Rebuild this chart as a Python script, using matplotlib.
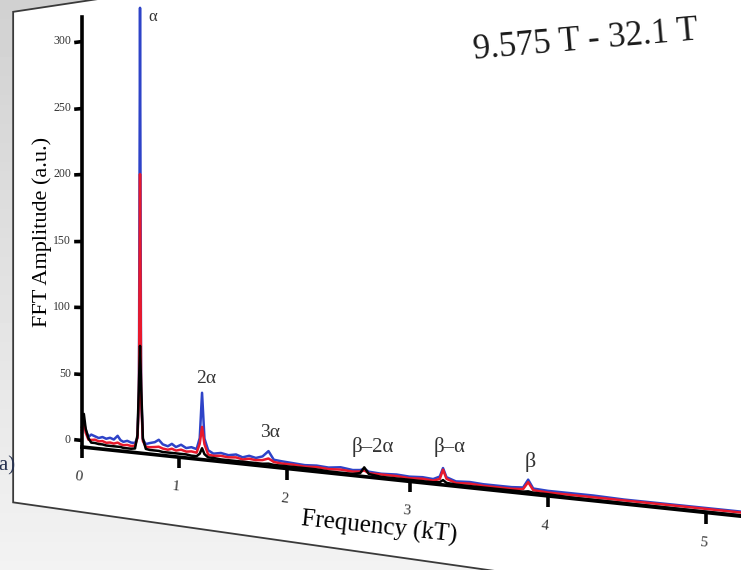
import matplotlib

matplotlib.use("Agg")
import matplotlib.pyplot as plt
import numpy as np
from matplotlib.patches import Polygon
from matplotlib.transforms import Transform
from mpl_toolkits.axisartist import floating_axes
from mpl_toolkits.axisartist.grid_finder import DictFormatter, FixedLocator

plt.rcParams["font.family"] = ["Liberation Serif", "DejaVu Serif"]

# spectrum (frequency in kT, amplitude in a.u.)
freq = [0.00, 0.02, 0.04, 0.07, 0.10, 0.14, 0.18, 0.22, 0.26, 0.30,
        0.34, 0.38, 0.41, 0.44, 0.48, 0.52, 0.56, 0.585, 0.60, 0.611,
        0.622, 0.64, 0.67, 0.71, 0.76, 0.80, 0.84, 0.89, 0.93, 0.97,
        1.02, 1.07, 1.12, 1.17, 1.20, 1.222, 1.245, 1.28, 1.33, 1.40,
        1.47, 1.54, 1.60, 1.66, 1.72, 1.78, 1.833, 1.88, 1.95, 2.05,
        2.15, 2.25, 2.35, 2.45, 2.55, 2.61, 2.643, 2.68, 2.78, 2.90,
        3.00, 3.10, 3.18, 3.23, 3.254, 3.28, 3.35, 3.45, 3.55, 3.65,
        3.75, 3.83, 3.865, 3.90, 4.00, 4.15, 4.30, 4.50, 4.70, 4.90,
        5.10, 5.30, 5.50]
amp_blue = [6, 14, 8, 3, 5, 4, 3, 4, 3, 4,
            3, 6, 3, 2, 3, 2, 2, 6, 40, 319,
            40, 5, 2, 3, 4, 6, 3, 2, 4, 2,
            4, 2, 3, 2, 10, 42, 10, 2, 0, 1,
            0, 1, -0.5, 1, 0, 1.5, 5.5, 0, -0.5, -1,
            -1.5, -1, -1.5, -0.5, -1.5, -1, 0, -1.5, -2, -1.5,
            -2, -1.5, -2, 0, 5.5, 0, -2, -1.5, -2, -2,
            -2, -1.5, 3.5, -1.5, -2, -2, -2, -2.5, -2.5, -2.5,
            -2.5, -2.5, -2.5]
amp_red = [8, 15, 6, 1, 1, 1.5, 0.5, 1, 0, 0.5,
           0, 1, 0, -0.5, 0, -0.5, 0, 6, 35, 198,
           35, 4, 0, 0, 0.5, 1, 0, -0.5, 0.5, -0.5,
           0.5, -0.5, 0, -0.5, 6, 18, 6, -1, -1.5, -1,
           -1.5, -1, -2, -1, -1.5, -1, 0.5, -1.5, -2, -2,
           -2.5, -2, -2.5, -2, -2.5, -2, -1, -2.5, -2.5, -2.5,
           -3, -2.5, -3, -1.5, 4.5, -1, -3, -2.5, -3, -3,
           -3, -2.5, 2, -2.5, -3, -3, -3, -3, -3, -3,
           -3, -3, -3]
amp_black = [10, 20, 9, 2, -1, -1, -1.5, -1.5, -2, -2,
             -2, -2, -2, -2.5, -2.5, -2.5, -2, 8, 45, 73,
             45, 6, -1.5, -2, -2, -2, -2.5, -2.5, -2.5, -2.5,
             -2.5, -2.5, -3, -3, -1, 3, -1, -3, -3, -3.5,
             -3.5, -3.5, -3.5, -3.5, -3.5, -3.5, -3, -3.5, -3.5, -3.5,
             -3.5, -3.5, -4, -4, -4, -3, 1, -3, -4, -4,
             -4, -4, -4, -3.5, -2, -3.5, -4, -4, -4, -4,
             -4, -4, -3.5, -4, -4, -4.5, -4.5, -4.5, -4.5, -4.5,
             -4.5, -4.5, -4.5]

x_ticks = [0, 1, 2, 3, 4, 5]
y_ticks = [0, 50, 100, 150, 200, 250, 300]

peak_labels = ["α", "2α", "3α", "β–2α", "β–α", "β"]
peak_label_freq = [0.742, 1.26, 1.846, 2.713, 3.306, 3.878]
peak_label_amp = [311, 52, 18, 15, 19, 14]
peak_label_size = [12, 14, 14, 15, 15, 16]

FIG_W, FIG_H = 741, 570
# the slide is photographed at an angle: a perspective tilt of the plot plane
U0, V0, A0 = 82.0, 447.0, -5.0   # pixel position of (0 kT, -5 a.u.)
K, C = 91.9, 0.05275             # px per kT at the origin, depth shrink per kT
S, H = 0.105, 1.33               # baseline slope, px per a.u. at the origin


class SlideTilt(Transform):
    input_dims = output_dims = 2
    is_separable = False
    has_inverse = True

    def __init__(self, inverse=False):
        super().__init__()
        self._inverse = inverse

    def transform_non_affine(self, values):
        values = np.asarray(values, dtype=float).reshape(-1, 2)
        if not self._inverse:
            f, a = values[:, 0], values[:, 1]
            w = 1 - C * f
            u = U0 + K * f / w
            v = V0 + S * (u - U0) - H * (a - A0) / w
            return np.column_stack([u, FIG_H - v])
        u, v = values[:, 0], FIG_H - values[:, 1]
        f = (u - U0) / (K + C * (u - U0))
        w = 1 - C * f
        a = A0 + (V0 + S * (u - U0) - v) * w / H
        return np.column_stack([f, a])

    def inverted(self):
        return SlideTilt(not self._inverse)


tilt = SlideTilt()
fig = plt.figure(figsize=(FIG_W / 100, FIG_H / 100), dpi=100)

# backdrop: textured desk, then the tilted slide with a white rim
bg = fig.add_axes([0, 0, 1, 1], zorder=-5)
bg.set_xlim(0, FIG_W)
bg.set_ylim(0, FIG_H)
bg.axis("off")
yy, xx = np.mgrid[0:1:60j, 0:1:60j]
bg.imshow(0.95 - 0.13 * yy, cmap="gray", vmin=0, vmax=1, origin="lower",
          extent=(0, FIG_W, 0, FIG_H), aspect="auto")
outer = Polygon([(-0.78, 330), (9, 330), (9, -54), (-0.78, -54)],
                transform=tilt + bg.transData, fc="white", ec="#3a3a3a", lw=1.3)
inner = Polygon([(-0.745, 327.5), (9, 327.5), (9, -51.5), (-0.745, -51.5)],
                transform=tilt + bg.transData, fc="none", ec="none")
bg.add_patch(outer)
bg.add_patch(inner)
shade = bg.imshow(0.865 + 0.08 * (0.5 * xx + 0.5 * (1 - yy)), cmap="gray", vmin=0, vmax=1,
                  origin="lower", extent=(0, FIG_W, 0, FIG_H), aspect="auto")
shade.set_clip_path(inner)
bg.text(15, FIG_H - 466, "(a)", ha="right", va="center", fontsize=15, color="#26314f")

helper = floating_axes.GridHelperCurveLinear(
    tilt, extremes=(0.0, 5.6, -5.0, 318.0),
    grid_locator1=FixedLocator(x_ticks), grid_locator2=FixedLocator(y_ticks),
    tick_formatter1=DictFormatter({t: str(t) for t in x_ticks}),
    tick_formatter2=DictFormatter({t: str(t) for t in y_ticks}))
ax = fig.add_axes([0, 0, 1, 1], axes_class=floating_axes.FloatingAxes, grid_helper=helper)
ax.set_xlim(0, FIG_W)
ax.set_ylim(0, FIG_H)
ax.patch.set_facecolor("none")

ax.axis["top"].set_visible(False)
ax.axis["right"].set_visible(False)
left, bottom = ax.axis["left"], ax.axis["bottom"]
for side in (left, bottom):
    side.line.set_linewidth(2.6)
    side.major_ticks.set_tick_out(True)
    side.major_ticks.set_markeredgewidth(2.6)
    side.major_ticklabels.set_color("#333333")
left.major_ticks.set_ticksize(6)
bottom.major_ticks.set_ticksize(8)
left.major_ticklabels.set_fontsize(8.5)
left.major_ticklabels.set_pad(2)
bottom.major_ticklabels.set_fontsize(11)
bottom.major_ticklabels.set_pad(9)
left.label.set_text("FFT Amplitude (a.u.)")
left.label.set_fontsize(16)
left.label.set_pad(1)
bottom.label.set_text("Frequency (kT)")
bottom.label.set_fontsize(18)
bottom.label.set_pad(3)

aux = ax.get_aux_axes(tilt)
aux.plot(freq, amp_blue, color="#2e43c8", lw=1.8, clip_on=False)
aux.plot(freq, amp_red, color="#e8192c", lw=1.8, clip_on=False)
aux.plot(freq, amp_black, color="black", lw=1.8, clip_on=False)

for text, f, a, size in zip(peak_labels, peak_label_freq, peak_label_amp, peak_label_size):
    aux.text(f, a, text, ha="center", va="center", fontsize=size, color="#333333")

aux.text(4.254, 263, "9.575 T - 32.1 T", ha="center", va="center",
         fontsize=25, rotation=5, color="#1a1a1a")

fig.savefig("out.png", dpi=100)
